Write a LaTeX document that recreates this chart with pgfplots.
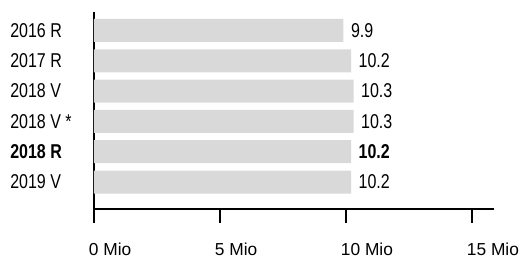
\documentclass[border=0pt]{standalone}
\usepackage{pgfplots}
\pgfplotsset{compat=1.18}
\usepackage{fontspec}
\setmainfont{Liberation Sans}[FakeStretch=0.8]
\newfontfamily\tickfont{Liberation Sans}
\definecolor{barfill}{HTML}{D9D9D9}
\begin{document}
\begin{tikzpicture}
\path[use as bounding box] (-70.5pt,-36pt) rectangle (318.75pt,156.75pt);
\begin{axis}[
  at={(0,0)}, anchor=south west,
  scale only axis,
  width=300pt, height=147.75pt,
  xmin=0, xmax=15.873,
  ymin=0.11, ymax=6.61,
  axis x line*=bottom,
  axis y line*=left,
  axis line style={-, line width=1.5pt, black},
  xtick={0,5,10,15},
  xticklabels={0 Mio,5 Mio,10 Mio,15 Mio},
  xtick style={line width=1.5pt, black},
  tick align=outside,
  major tick length=10.5pt,
  xticklabel style={font=\tickfont\fontsize{13}{15}\selectfont, anchor=base west, inner sep=0pt, yshift=-24.25pt, xshift=-4pt},
  ytick={1,2,3,4,5,6},
  yticklabels={2019 V,\textbf{2018 R},2018 V *,2018 V,2017 R,2016 R},
  ytick style={draw=none},
  yticklabel style={font=\fontsize{15}{18}\selectfont, anchor=west, inner sep=0pt, xshift=-52.5pt},
  xbar, bar width=17.25pt,
  point meta=explicit symbolic,
  nodes near coords,
  nodes near coords style={font=\fontsize{15}{18}\selectfont, anchor=west, inner sep=0pt, xshift=5.5pt},
  clip=false,
]
\addplot[fill=barfill, draw=none] coordinates {
  (10.2,1) [10.2]
  (10.2,2) [\textbf{10.2}]
  (10.3,3) [10.3]
  (10.3,4) [10.3]
  (10.2,5) [10.2]
  (9.9,6) [9.9]
};
\end{axis}
\end{tikzpicture}
\end{document}
